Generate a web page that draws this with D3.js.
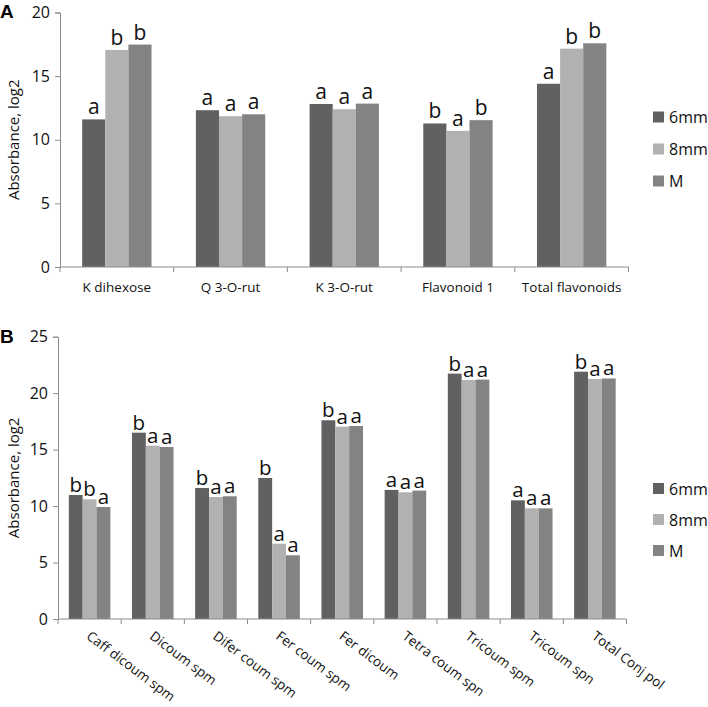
<!DOCTYPE html>
<html><head><meta charset="utf-8">
<script src="https://cdnjs.cloudflare.com/ajax/libs/d3/7.8.5/d3.min.js"></script>
<style>
body{margin:0;background:#fff;}
svg{display:block;font-family:"Open Sans",Lato,sans-serif;}
</style></head>
<body><svg id="c" width="708" height="707"></svg>
<script>
const series = ["6mm","8mm","M"];
const colors = ["#616161","#b1b1b1","#838383"];

const catsA = ["K dihexose","Q 3-O-rut","K 3-O-rut","Flavonoid 1","Total flavonoids"];
const a6mm = [11.6, 12.32, 12.81, 11.28, 14.4];
const a8mm = [17.06, 11.85, 12.4, 10.7, 17.16];
const aM   = [17.48, 12.0, 12.84, 11.54, 17.58];
const lettersA6 = ["a","a","a","b","a"];
const lettersA8 = ["b","a","a","a","b"];
const lettersAM = ["b","a","a","b","b"];
const ticksA = [0,5,10,15,20];

const catsB = ["Caff dicoum spm","Dicoum spm","Difer coum spm","Fer coum spm","Fer dicoum","Tetra coum spn","Tricoum spm","Tricoum spn","Total Conj pol"];
const b6mm = [10.98, 16.5, 11.6, 12.49, 17.6, 11.43, 21.73, 10.51, 21.9];
const b8mm = [10.6, 15.35, 10.8, 6.67, 17.03, 11.22, 21.17, 9.8, 21.26];
const bM   = [9.92, 15.23, 10.87, 5.64, 17.09, 11.37, 21.2, 9.8, 21.3];
const lettersB6 = ["b","b","b","b","b","a","b","a","b"];
const lettersB8 = ["b","a","a","a","a","a","a","a","a"];
const lettersBM = ["a","a","a","a","a","a","a","a","a"];
const ticksB = [0,5,10,15,20,25];

const svg = d3.select("#c");
const axisColor = "#8c8c8c";
const textColor = "#111";

function panel(cfg){
  const g = svg.append("g");
  const x = d3.scaleBand().domain(cfg.cats).range([cfg.x0, cfg.x1]);
  const y = d3.scaleLinear().domain([0, cfg.ymax]).range([cfg.y0, cfg.y1]);
  const xs = d3.scaleBand().domain(series).range([0, x.bandwidth()]).paddingInner(0).paddingOuter(cfg.pad);
  const vals = [cfg.v6, cfg.v8, cfg.vM];
  const lets = [cfg.l6, cfg.l8, cfg.lM];
  const data = [];
  cfg.cats.forEach((c,i)=>series.forEach((s,j)=>data.push({c, s, v: vals[j][i], l: lets[j][i], col: colors[j]})));
  g.selectAll("rect.bar").data(data).join("rect").attr("class","bar")
    .attr("x", d=>x(d.c)+xs(d.s)).attr("width", xs.bandwidth())
    .attr("y", d=>y(d.v)).attr("height", d=>y(0)-y(d.v)).attr("fill", d=>d.col);
  g.selectAll("text.let").data(data).join("text").attr("class","let")
    .attr("x", d=>x(d.c)+xs(d.s)+xs.bandwidth()/2).attr("y", d=>y(d.v)-cfg.lgap)
    .attr("text-anchor","middle").attr("font-size", cfg.lsize).attr("fill",textColor).text(d=>d.l);
  // y axis
  const ya = g.append("g").attr("transform",`translate(${cfg.x0},0)`)
    .call(d3.axisLeft(y).tickValues(cfg.ticks).tickSize(5).tickPadding(5));
  ya.select(".domain").attr("stroke", axisColor);
  ya.selectAll(".tick line").attr("stroke", axisColor);
  ya.selectAll(".tick text").attr("font-size", 16).attr("fill",textColor).attr("font-family","'Open Sans',sans-serif");
  // x axis
  const xa = g.append("g").attr("transform",`translate(0,${cfg.y0})`);
  xa.append("line").attr("x1",cfg.x0).attr("x2",cfg.x1).attr("stroke",axisColor);
  const bounds = cfg.cats.map(c=>x(c)).concat([x(cfg.cats[cfg.cats.length-1])+x.bandwidth()]);
  xa.selectAll("line.tk").data(bounds).join("line").attr("class","tk")
    .attr("x1",d=>d).attr("x2",d=>d).attr("y1",0).attr("y2",5).attr("stroke",axisColor);
  if(cfg.rot){
    xa.selectAll("text").data(cfg.cats).join("text")
      .attr("transform", d=>`translate(${x(d)+x.bandwidth()/2+cfg.labDX},${cfg.labY}) rotate(${cfg.rot})`)
      .attr("font-size", 13.5).attr("fill",textColor).text(d=>d);
  } else {
    xa.selectAll("text").data(cfg.cats).join("text")
      .attr("x", d=>x(d)+x.bandwidth()/2).attr("y", cfg.labY)
      .attr("text-anchor","middle").attr("font-size", 13.5).attr("fill",textColor).text(d=>d);
  }
  // y label
  g.append("text").attr("transform",`translate(${cfg.ylabX},${(cfg.y0+cfg.y1)/2}) rotate(-90)`)
    .attr("text-anchor","middle").attr("font-size", 15).attr("fill",textColor).text("Absorbance, log2");
  // panel letter
  g.append("text").attr("x",0).attr("y",cfg.tagY).attr("font-size",19).attr("font-weight","bold")
    .attr("font-family","Arial,'Liberation Sans',sans-serif").text(cfg.tag);
  // legend
  const lg = g.selectAll("g.leg").data(series).join("g").attr("class","leg")
    .attr("transform",(d,i)=>`translate(653,${cfg.legY + i*cfg.legStep})`);
  lg.append("rect").attr("x",0).attr("y",-5.5).attr("width",11).attr("height",11).attr("fill",(d,i)=>colors[i]);
  lg.append("text").attr("x",16).attr("y",6).attr("font-size",16).attr("fill",textColor).text(d=>d);
}

panel({cats:catsA, v6:a6mm, v8:a8mm, vM:aM, l6:lettersA6, l8:lettersA8, lM:lettersAM,
  ticks:ticksA, ymax:20, x0:60, x1:628.5, y0:267, y1:12.5, pad:0.96, lgap:5, lsize:21,
  labY:25, ylabX:19, tag:"A", tagY:18, legY:117, legStep:32});
panel({cats:catsB, v6:b6mm, v8:b8mm, vM:bM, l6:lettersB6, l8:lettersB8, lM:lettersBM,
  ticks:ticksB, ymax:25, x0:58, x1:626.5, y0:619, y1:336.7, pad:0.78, lgap:3, lsize:20.5,
  labY:19, labDX:-4, rot:37, ylabX:19, tag:"B", tagY:343, legY:488.5, legStep:31});
</script></body></html>
